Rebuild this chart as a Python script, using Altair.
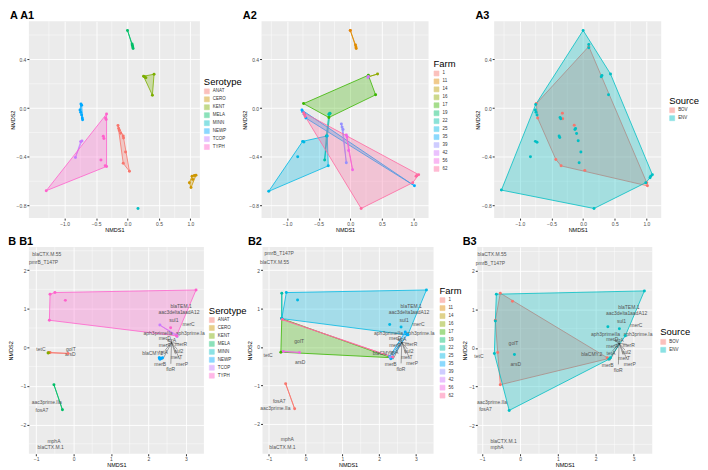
import altair as alt
import pandas as pd

FONT = "Liberation Sans"

# ---------------- colours (ggplot hue palettes) ----------------
SERO = ["ANAT", "CERO", "KENT", "MELA", "MINN", "NEWP", "TCOP", "TYPH"]
SERO_COL = ["#F8766D", "#CD9600", "#7CAE00", "#00BE67", "#00BFC4", "#00A9FF", "#C77CFF", "#FF61CC"]
FARM = ["1", "11", "14", "16", "17", "19", "22", "25", "35", "39", "42", "56", "62"]
FARM_COL = ["#F8766D", "#E08B00", "#BB9D00", "#8FAA00", "#3AB600", "#00BF6F", "#00C0A8",
            "#00B8E5", "#00ACFC", "#9590FF", "#D277FE", "#F365E6", "#FF68A0"]
SRC = ["BOV", "ENV"]
SRC_COL = ["#F8766D", "#00BFC4"]

# ---------------- row A: NMDS of isolates ----------------
A1_pts = {
    "ANAT": [(-0.151, -0.143), (-0.141, -0.167), (-0.130, -0.183), (-0.109, -0.207), (-0.068, -0.228),
             (-0.063, -0.246), (-0.031, -0.360), (-0.068, -0.453), (0.031, -0.519)],
    "CERO": [(1.026, -0.559), (1.063, -0.554), (1.089, -0.551), (0.984, -0.612), (1.010, -0.652), (1.036, -0.585)],
    "KENT": [(0.255, 0.262), (0.271, 0.257), (0.292, 0.249), (0.422, 0.278), (0.396, 0.106)],
    "MELA": [(0.0, 0.638), (0.073, 0.527), (0.078, 0.514), (0.083, 0.501), (0.089, 0.490)],
    "MINN": [(0.167, -0.824)],
    "NEWP": [(-0.740, 0.034), (-0.729, 0.024), (-0.755, -0.016), (-0.745, -0.034), (-0.729, -0.056),
             (-0.719, -0.082), (-0.714, -0.095)],
    "TCOP": [(-0.745, -0.275), (-0.724, -0.270), (-0.828, -0.405)],
    "TYPH": [(-0.333, -0.048), (-0.349, -0.082), (-0.339, -0.093), (-0.385, -0.230), (-0.375, -0.249),
             (-0.422, -0.426), (-0.354, -0.474), (-0.333, -0.479), (-1.292, -0.678)],
}
A2_pts = {
    "1": [(0.0, 0.638)],
    "11": [(0.0, 0.638), (0.083, 0.519), (0.089, 0.501), (0.094, 0.490)],
    "14": [(0.292, 0.262)],
    "16": [(0.286, 0.257), (0.432, 0.280)],
    "17": [(-0.740, 0.037), (0.286, 0.270), (0.401, 0.109), (-0.339, -0.077)],
    "19": [(-0.323, -0.045)],
    "22": [(-0.323, -0.042), (-0.339, -0.050), (-0.380, -0.228), (-0.406, -0.426)],
    "25": [(-1.292, -0.683), (-0.755, -0.273), (-0.734, -0.278), (-0.365, -0.228), (-0.349, -0.474), (-0.833, -0.400)],
    "35": [(-0.766, -0.016), (-0.755, -0.029), (-0.729, -0.050), (-0.703, -0.082), (1.016, -0.638)],
    "39": [(-0.141, -0.130), (-0.130, -0.156), (-0.115, -0.175), (-0.063, -0.448)],
    "42": [(0.286, 0.259), (0.281, 0.252)],
    "56": [(-0.063, -0.220), (-0.052, -0.236), (-0.026, -0.347), (0.036, -0.506)],
    "62": [(-0.740, -0.037), (-0.729, -0.050), (-0.714, -0.069), (0.990, -0.612), (1.042, -0.559),
           (1.057, -0.554), (1.083, -0.546), (0.172, -0.824)],
}
A3_pts = {
    "BOV": [(0.089, 0.506), (-0.740, 0.037), (-0.719, -0.082), (-0.328, -0.042), (-0.323, -0.087),
            (-0.141, -0.140), (-0.432, -0.421), (-0.349, -0.474), (0.026, -0.511), (1.016, -0.638), (1.005, -0.612)],
    "ENV": [(0.0, 0.638), (0.089, 0.522), (0.089, 0.495), (0.286, 0.257), (0.297, 0.268), (0.432, 0.281),
            (0.401, 0.109), (-0.750, 0.030), (-0.755, -0.016), (-0.745, -0.034), (-0.729, -0.056),
            (-0.365, -0.077), (-0.354, -0.087), (-0.130, -0.175), (-0.120, -0.167), (-0.104, -0.209),
            (-0.078, -0.268), (-0.380, -0.228), (-0.370, -0.241), (-0.833, -0.400), (-0.755, -0.273),
            (-0.729, -0.281), (-0.063, -0.448), (-0.036, -0.360), (-1.292, -0.673), (0.172, -0.824),
            (1.094, -0.546), (1.068, -0.559), (1.057, -0.572), (0.990, -0.612)],
}

# ---------------- row B: NMDS of resistance genes ----------------
B1_pts = {
    "ANAT": [(-0.671, -0.143), (-0.627, -0.135), (-0.148, -0.160)],
    "CERO": [(-0.660, -0.140)],
    "KENT": [(-0.680, -0.150)],
    "MELA": [(-0.523, -0.970), (-0.296, -1.620)],
    "MINN": [(2.300, -0.280)],
    "NEWP": [(2.291, -0.270), (2.334, -0.295), (2.378, -0.270), (2.310, -0.310)],
    "TCOP": [(2.308, 0.574), (2.753, 0.321), (2.770, 0.278)],
    "TYPH": [(-0.627, 1.376), (-0.497, 1.418), (-0.218, 1.215), (3.275, 1.485), (-0.645, 0.700),
             (2.596, 0.506), (2.753, 0.295)],
}
B2_pts = {
    "1": [(-0.543, -0.958), (-0.298, -1.612)],
    "17": [(-0.648, 0.738), (-0.674, -0.136), (2.328, -0.280)],
    "22": [(-0.648, 1.400), (-0.648, 0.738)],
    "25": [(-0.525, 1.416), (-0.219, 1.221), (3.291, 1.484), (2.783, 0.314), (2.290, 0.585),
           (2.600, 0.518), (-0.648, 0.738)],
    "35": [(2.290, -0.250), (2.320, -0.305), (2.350, -0.280), (2.713, 0.390), (2.766, 0.322)],
    "39": [(2.300, -0.263)],
    "56": [(-0.604, -0.119), (-0.166, -0.144)],
    "62": [(-0.630, 0.712), (2.372, -0.263)],
}
B3_pts = {
    "BOV": [(-0.522, 1.418), (-0.200, 1.207), (-0.652, 0.717), (-0.591, -0.118), (-0.522, -0.954),
            (2.304, -0.253), (2.330, -0.278)],
    "ENV": [(-0.626, 1.392), (3.287, 1.477), (2.783, 0.312), (2.322, 0.549), (2.626, 0.498),
            (-0.678, -0.143), (-0.148, -0.169), (-0.287, -1.620), (2.348, -0.295), (2.391, -0.253),
            (-0.652, 0.700)],
}

GENES = ["blaCTX.M.55", "pmrB_T147P", "blaTEM.1", "aac3delta1", "aadA12", "sul1", "merC",
         "aph3primeIIa", "aph3prime.Ia", "merD", "strA", "merR", "merA", "tetA", "sul2", "blaCMY.2",
         "merT", "merP", "merB", "floR", "tetC", "golT", "arsD", "aac3prime.IIa", "fosA7", "mphA", "blaCTX.M.1"]
GENE_X = [-0.714, -0.801, 2.875, 2.596, 3.136, 2.683, 3.075, 2.260, 3.118, 2.439, 2.622, 2.875, 2.439,
          2.404, 2.814, 2.117, 2.753, 2.901, 2.317, 2.596, -0.871, -0.070, -0.087, -0.714, -0.845, -0.523, -0.610]
GENE_Y = [2.422, 2.203, 1.063, 0.903, 0.911, 0.700, 0.591, 0.363, 0.363, 0.228, 0.194, 0.084, 0.051,
          -0.127, -0.101, -0.160, -0.253, -0.422, -0.439, -0.565, -0.051, -0.034, -0.186, -1.426, -1.620,
          -2.422, -2.591]
B2_GENE_MOVE = {"pmrB_T147P": (-0.718, 2.434), "blaCTX.M.55": (-0.849, 2.222), "golT": (-0.175, 0.144),
                "arsD": (-0.149, -0.390), "tetC": (-1.020, -0.220), "fosA7": (-0.718, -1.408),
                "aac3prime.IIa": (-0.823, -1.595), "mphA": (-0.499, -2.400), "blaCTX.M.1": (-0.630, -2.600)}
B3_GENE_MOVE = {"blaCTX.M.55": (-0.739, 2.430), "pmrB_T147P": (-0.783, 2.211), "golT": (-0.174, 0.127),
                "arsD": (-0.113, -0.422), "tetC": (-1.087, -0.211), "aac3prime.IIa": (-0.739, -1.409),
                "fosA7": (-0.913, -1.586), "blaCTX.M.1": (-0.435, -2.405), "mphA": (-0.609, -2.574),
                "blaCMY.2": (1.896, -0.169)}
ARROW_GENES = ["merD", "strA", "merR", "merA", "tetA", "sul2", "merT", "merP", "merB", "floR"]
ARROW_HUB = (2.62, 0.12)


def hull(pts):
    pts = sorted(set(pts))
    if len(pts) <= 2:
        return pts

    def cross(o, a, b):
        return (a[0] - o[0]) * (b[1] - o[1]) - (a[1] - o[1]) * (b[0] - o[0])
    lower, upper = [], []
    for p in pts:
        while len(lower) >= 2 and cross(lower[-2], lower[-1], p) <= 0:
            lower.pop()
        lower.append(p)
    for p in reversed(pts):
        while len(upper) >= 2 and cross(upper[-2], upper[-1], p) <= 0:
            upper.pop()
        upper.append(p)
    return lower[:-1] + upper[:-1]


def panel(title, pts, order, colors, xdom, ydom, W, H, xt, yt, xm, ym, fmt, ltitle, lx, ly,
          genes=None, ytpad=1):
    prow, hrow = [], []
    for g in order:
        for (x, y) in pts.get(g, []):
            prow.append({"x": x, "y": y, "g": g})
        h = hull(pts.get(g, []))
        if len(h) >= 2:
            for i, (x, y) in enumerate(h):
                hrow.append({"x": x, "y": y, "g": g, "i": i})
    pdf, hdf = pd.DataFrame(prow), pd.DataFrame(hrow)
    xs = alt.Scale(domain=xdom, nice=False, zero=False)
    ys = alt.Scale(domain=ydom, nice=False, zero=False)
    xax = alt.Axis(values=xt, format=fmt, title="NMDS1")
    yax = alt.Axis(values=yt, format=fmt, title="NMDS2", titlePadding=ytpad)
    X = alt.X("x:Q", scale=xs, axis=xax)
    Y = alt.Y("y:Q", scale=ys, axis=yax)
    cs = alt.Scale(domain=order, range=colors)
    leg = alt.Legend(title=ltitle, orient="none", legendX=lx, legendY=ly, symbolType="square",
                     symbolSize=25, symbolOpacity=0.45, symbolStrokeWidth=0.6, titleFontSize=9.5,
                     titleFontWeight="normal", labelFontSize=4.5, rowPadding=0, titlePadding=2,
                     labelOffset=3, padding=0)
    C = alt.Color("g:N", scale=cs, legend=leg)

    layers = [
        alt.Chart(pd.DataFrame({"x": xm})).mark_rule(color="white", strokeWidth=0.45).encode(x=X),
        alt.Chart(pd.DataFrame({"y": ym})).mark_rule(color="white", strokeWidth=0.45).encode(y=Y),
        alt.Chart(hdf).mark_line(interpolate="linear-closed", strokeWidth=0.8, fillOpacity=0.3).encode(
            x=X, y=Y, color=C,
            fill=alt.Fill("g:N", scale=cs, legend=None), order="i:Q", detail="g:N"),
    ]
    if genes is not None:
        gdf = pd.DataFrame(genes)
        sdf = gdf[gdf["t"].isin(ARROW_GENES)].copy()
        sdf["x2"] = ARROW_HUB[0] + 0.8 * (sdf["x"] - ARROW_HUB[0])
        sdf["y2"] = ARROW_HUB[1] + 0.8 * (sdf["y"] - ARROW_HUB[1])
        sdf["x"] = ARROW_HUB[0]
        sdf["y"] = ARROW_HUB[1]
        layers.append(alt.Chart(sdf).mark_rule(color="#222", strokeWidth=0.4).encode(
            x=X, y=Y, x2="x2:Q", y2="y2:Q"))
        layers.append(alt.Chart(gdf).mark_text(fontSize=5, color="#555", font=FONT).encode(
            x=X, y=Y, text="t:N"))
    layers.append(alt.Chart(pdf).mark_point(filled=True, size=9, opacity=1).encode(x=X, y=Y, color=C))
    return alt.layer(*layers).properties(
        width=W, height=H,
        title=alt.TitleParams(title, anchor="start", fontSize=11, fontWeight="bold", font=FONT, offset=0))


def gene_list(move):
    out = []
    for t, x, y in zip(GENES, GENE_X, GENE_Y):
        if t in move:
            x, y = move[t]
        out.append({"t": t, "x": x, "y": y})
    return out


AX_X = [-1.0, -0.5, 0.0, 0.5, 1.0]
AX_Y = [-0.8, -0.4, 0.0, 0.4]
AM_X = [-1.25, -0.75, -0.25, 0.25, 0.75]
AM_Y = [-0.6, -0.2, 0.2, 0.6]
BX_X = [-1, 0, 1, 2, 3]
BX_Y = [-2, -1, 0, 1, 2]
BM_X = [-0.5, 0.5, 1.5, 2.5]
BM_Y = [-2.5, -1.5, -0.5, 0.5, 1.5, 2.5]

a1 = panel("A  A1", A1_pts, SERO, SERO_COL, [-1.568, 1.151], [-0.903, 0.713], 172, 198,
           AX_X, AX_Y, AM_X, AM_Y, ".1f", "Serotype", 176, 56)
a2 = panel("A2", A2_pts, FARM, FARM_COL, [-1.406, 1.240], [-0.903, 0.713], 168, 198,
           AX_X, AX_Y, AM_X, AM_Y, ".1f", "Farm", 173, 38)
a3 = panel("A3", A3_pts, SRC, SRC_COL, [-1.406, 1.234], [-0.903, 0.713], 168, 198,
           AX_X, AX_Y, AM_X, AM_Y, ".1f", "Source", 176, 75)
b1 = panel("B  B1", B1_pts, SERO, SERO_COL, [-1.193, 3.484], [-2.759, 2.599], 176, 208,
           BX_X, BX_Y, BM_X, BM_Y, "d", "Serotype", 181, 59, gene_list({}), ytpad=7)
b2 = panel("B2", B2_pts, FARM, FARM_COL, [-1.173, 3.484], [-2.782, 2.604], 172, 208,
           BX_X, BX_Y, BM_X, BM_Y, "d", "Farm", 178, 39, gene_list(B2_GENE_MOVE))
b3 = panel("B3", B3_pts, SRC, SRC_COL, [-1.130, 3.496], [-2.743, 2.616], 176, 208,
           BX_X, BX_Y, BM_X, BM_Y, "d", "Source", 184, 81, gene_list(B3_GENE_MOVE))


def indep(c):
    return c.resolve_scale(color="independent", fill="independent", x="independent", y="independent") \
            .resolve_legend(color="independent", fill="independent")


rowA = indep(alt.hconcat(indep(alt.hconcat(a1, a2, spacing=0)), a3, spacing=19))
rowB = indep(alt.hconcat(b1, b2, b3, spacing=0))

chart = indep(alt.vconcat(rowA, rowB, spacing=2)).properties(padding=0).configure(
    font=FONT
).configure_view(fill="#EBEBEB", stroke=None).configure_axis(
    labelFontSize=5, titleFontSize=5.5, tickSize=2, labelPadding=1, titlePadding=1, domain=False,
    tickColor="#333333", labelColor="#4D4D4D", titleColor="black", titleFontWeight="normal",
    gridColor="white", gridWidth=0.9, labelFont=FONT, titleFont=FONT
).configure_legend(labelFont=FONT, titleFont=FONT, labelColor="#333333")

chart.save("out.html", embed_options={"renderer": "svg", "actions": False})
